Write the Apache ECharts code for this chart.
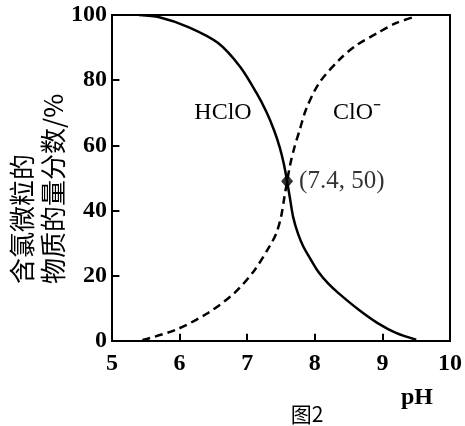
<!DOCTYPE html>
<html><head><meta charset="utf-8">
<script src="https://cdn.jsdelivr.net/npm/echarts@6/dist/echarts.min.js"></script>
<style>html,body{margin:0;padding:0;background:#fff}#c{width:465px;height:426px}</style>
</head><body><div id="c"></div>
<script>
// pH positions and percentages
const hcloX = [5.40, 5.70, 6.13, 6.57, 6.90, 7.14, 7.29, 7.40, 7.48, 7.54, 7.59, 7.635, 7.68, 7.75, 7.83, 7.94, 8.06, 8.20, 8.35, 8.65, 8.93, 9.20, 9.50];
const hcloY = [100, 99.3, 96.3, 91.4, 84, 76, 70, 64.5, 59.5, 54.5, 49, 43.5, 38, 33, 29, 25, 21, 17.6, 14.7, 9.6, 5.5, 2.5, 0.4];
const cloX  = [5.45, 5.94, 6.42, 6.81, 7.10, 7.33, 7.43, 7.50, 7.545, 7.59, 7.64, 7.70, 7.78, 7.87, 8.06, 8.35, 8.60, 8.93, 9.20, 9.50];
const cloY  = [0.3, 3.4, 8.6, 14.7, 21.5, 29, 33, 38, 43.5, 49, 54.5, 59.5, 65, 71, 79, 86, 90.5, 94.5, 97.5, 99.6];
const crossPoint = [7.59, 49];
const crossLabel = '(7.4, 50)';
const xTicks = [5, 6, 7, 8, 9, 10];
const yTicks = [0, 20, 40, 60, 80, 100];

const pairs = (xs, ys) => xs.map((x, i) => [x, ys[i]]);
const xMin = xTicks[0], xMax = xTicks[xTicks.length - 1];
const yMin = yTicks[0], yMax = yTicks[yTicks.length - 1];
// inward tick marks as short segments at each inner tick value
const tickLen = {x: 0.11, y: 2.2};
const innerX = xTicks.slice(1, -1), innerY = yTicks.slice(1, -1);
const tickSegments = [
  ...innerX.map(t => [{coord: [t, yMin]}, {coord: [t, yMin + tickLen.y]}]),
  ...innerY.map(t => [{coord: [xMin, t]}, {coord: [xMin + tickLen.x, t]}])
];
const serifBold = {fontFamily: 'Liberation Serif', fontWeight: 'bold', fontSize: 24, color: '#000'};
const chart = echarts.init(document.getElementById('c'));
chart.setOption({
  animation: false,
  grid: {left: 112, right: 8, top: 15, bottom: 85, show: true, borderColor: '#000', borderWidth: 2, backgroundColor: 'transparent'},
  xAxis: {
    type: 'value', min: xMin, max: xMax, interval: 1,
    axisLine: {show: true, onZero: false, lineStyle: {color: '#000', width: 2}},
    axisTick: {show: false},
    axisLabel: Object.assign({margin: 11}, serifBold),
    splitLine: {show: false}
  },
  yAxis: {
    type: 'value', min: yMin, max: yMax, interval: 20,
    axisLine: {show: true, onZero: false, lineStyle: {color: '#000', width: 2}},
    axisTick: {show: false},
    axisLabel: Object.assign({margin: 5}, serifBold),
    splitLine: {show: false}
  },
  series: [
    {type: 'line', name: 'HClO', data: pairs(hcloX, hcloY), smooth: 0.3, showSymbol: false, z: 3,
     lineStyle: {color: '#000', width: 2.5}},
    {type: 'line', name: 'ClO-', data: pairs(cloX, cloY), smooth: 0.3, showSymbol: false, z: 3,
     lineStyle: {color: '#000', width: 2.5, type: [8, 5]}},
    {type: 'scatter', data: [crossPoint], symbol: 'diamond', symbolSize: [12, 14], z: 4,
     itemStyle: {color: '#000'},
     label: {show: true, position: 'right', distance: 6, formatter: crossLabel,
             fontFamily: 'Liberation Serif', fontSize: 25, color: '#000', textBorderWidth: 0},
     markLine: {silent: true, symbol: ['none', 'none'], animation: false,
                label: {show: false},
                lineStyle: {color: '#000', width: 2, type: 'solid'},
                emphasis: {disabled: true},
                data: tickSegments}}
  ],
  graphic: [
    {type: 'text', x: 223, y: 113, style: {text: 'HClO', font: '24px "Liberation Serif"', fill: '#000', textAlign: 'center', textVerticalAlign: 'middle'}},
    {type: 'text', x: 357, y: 113, style: {text: 'ClO\u207B', font: '24px "Liberation Serif"', fill: '#000', textAlign: 'center', textVerticalAlign: 'middle'}},
    {type: 'text', x: 22, y: 284, rotation: Math.PI / 2, style: {text: '含氯微粒的', font: '26px "Noto Sans CJK SC"', fill: '#000', textAlign: 'left', textVerticalAlign: 'middle'}},
    {type: 'text', x: 53, y: 284, rotation: Math.PI / 2, style: {text: '物质的量分数/%', font: '26px "Noto Sans CJK SC"', fill: '#000', textAlign: 'left', textVerticalAlign: 'middle'}},
    {type: 'text', x: 417, y: 398, style: {text: 'pH', font: 'bold 24px "Liberation Serif"', fill: '#000', textAlign: 'center', textVerticalAlign: 'middle'}},
    {type: 'text', x: 307, y: 414, style: {text: '图2', font: '21px "Noto Sans CJK SC"', fill: '#000', textAlign: 'center', textVerticalAlign: 'middle'}}
  ]
});
</script></body></html>
